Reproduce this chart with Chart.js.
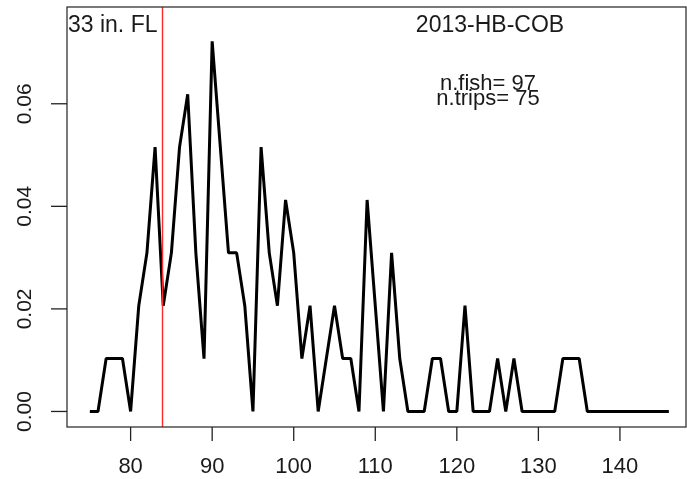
<!DOCTYPE html>
<html>
<head>
<meta charset="utf-8">
<script src="https://cdn.jsdelivr.net/npm/chart.js@4/dist/chart.umd.min.js"></script>
<style>
  html, body { margin: 0; padding: 0; background: #fff; overflow: hidden; }
  canvas { display: block; }
</style>
</head>
<body>
<canvas id="lenChart" width="687" height="479"></canvas>
<script>
// length bins (cm FL) and fish counts per bin
var lengthCm = [75, 76, 77, 78, 79, 80, 81, 82, 83, 84, 85, 86, 87, 88, 89, 90, 91, 92,
  93, 94, 95, 96, 97, 98, 99, 100, 101, 102, 103, 104, 105, 106, 107, 108, 109, 110,
  111, 112, 113, 114, 115, 116, 117, 118, 119, 120, 121, 122, 123, 124, 125, 126, 127, 128,
  129, 130, 131, 132, 133, 134, 135, 136, 137, 138, 139, 140, 141, 142, 143, 144, 145, 146];
var fishCount = [0, 0, 1, 1, 1, 0, 2, 3, 5, 2, 3, 5, 6, 3, 1, 7, 5, 3,
  3, 2, 0, 5, 3, 2, 4, 3, 1, 2, 0, 1, 2, 1, 1, 0, 4, 2,
  0, 3, 1, 0, 0, 0, 1, 1, 0, 0, 2, 0, 0, 0, 1, 0, 1, 0,
  0, 0, 0, 0, 1, 1, 1, 0, 0, 0, 0, 0, 0, 0, 0, 0, 0, 0];

var nFish = 97;
var nTrips = 75;
var cutoffCm = 83.82; // 33 in.

var xTicks = [80, 90, 100, 110, 120, 130, 140];
var yTicks = [0, 0.02, 0.04, 0.06];
var yTickLabels = ["0.00", "0.02", "0.04", "0.06"];

var TEXT_COLOR = "#1a1a1a";
var FONT = "Liberation Sans, Arial, sans-serif";

// proportion of fish in each bin
var points = [];
for (var i = 0; i < lengthCm.length; i++) {
  points.push({ x: lengthCm[i], y: fishCount[i] / nFish });
}

// R-style frame, ticks, labels and annotations
var rFrame = {
  id: "rFrame",
  afterDraw: function (chart) {
    var ctx = chart.ctx;
    var area = chart.chartArea;
    var xs = chart.scales.x;
    var ys = chart.scales.y;
    var i, px, py;

    ctx.save();

    // cutoff line
    px = Math.round(xs.getPixelForValue(cutoffCm)) + 0.5;
    ctx.strokeStyle = "#ff2a2a";
    ctx.lineWidth = 1.4;
    ctx.beginPath();
    ctx.moveTo(px, area.top);
    ctx.lineTo(px, area.bottom);
    ctx.stroke();

    // box
    ctx.strokeStyle = "#333";
    ctx.lineWidth = 1.3;
    ctx.strokeRect(area.left, area.top, area.right - area.left, area.bottom - area.top);

    ctx.fillStyle = TEXT_COLOR;
    ctx.strokeStyle = "#222";
    ctx.lineWidth = 1.3;

    // x axis
    ctx.font = "22px " + FONT;
    ctx.textAlign = "center";
    ctx.textBaseline = "middle";
    for (i = 0; i < xTicks.length; i++) {
      px = xs.getPixelForValue(xTicks[i]);
      ctx.beginPath();
      ctx.moveTo(px, area.bottom);
      ctx.lineTo(px, area.bottom + 14);
      ctx.stroke();
      ctx.fillText(String(xTicks[i]), px, 467);
    }

    // y axis (labels turned like R)
    for (i = 0; i < yTicks.length; i++) {
      py = ys.getPixelForValue(yTicks[i]);
      ctx.beginPath();
      ctx.moveTo(area.left - 16, py);
      ctx.lineTo(area.left, py);
      ctx.stroke();
      ctx.save();
      ctx.translate(25, py);
      ctx.rotate(-Math.PI / 2);
      ctx.font = "21px " + FONT;
      ctx.fillText(yTickLabels[i], 0, 0);
      ctx.restore();
    }

    // texts
    ctx.font = "23px " + FONT;
    ctx.textBaseline = "alphabetic";
    ctx.textAlign = "left";
    ctx.fillText("33 in. FL", area.left + 1, 32);
    ctx.textAlign = "center";
    ctx.fillText("2013-HB-COB", 490, 32);
    ctx.font = "22px " + FONT;
    ctx.fillText("n.fish= " + nFish, 488, 90);
    ctx.fillText("n.trips= " + nTrips, 488, 105);

    ctx.restore();
  }
};

var lenChart = new Chart(document.getElementById("lenChart"), {
  type: "line",
  data: {
    datasets: [{
      data: points,
      borderColor: "#000",
      borderWidth: 3,
      borderJoinStyle: "bevel",
      borderCapStyle: "butt",
      pointRadius: 0,
      tension: 0,
      fill: false
    }]
  },
  options: {
    responsive: false,
    animation: false,
    events: [],
    layout: { padding: { left: 67, right: 1, top: 7, bottom: 52 } },
    plugins: {
      legend: { display: false },
      tooltip: { enabled: false }
    },
    scales: {
      x: { type: "linear", min: 72.2, max: 148.1, display: false },
      y: { type: "linear", min: -0.00303, max: 0.07887, display: false }
    }
  },
  plugins: [rFrame]
});
</script>
</body>
</html>
